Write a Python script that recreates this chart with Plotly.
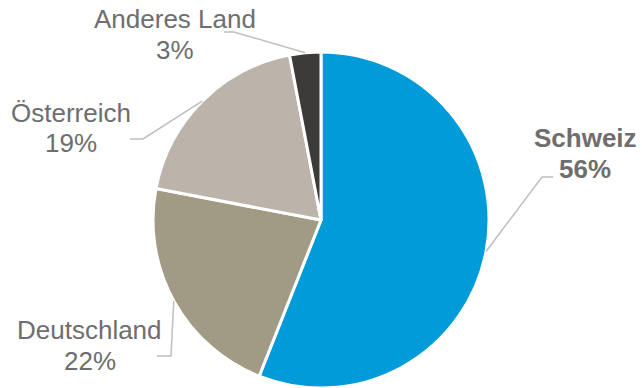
import math
import plotly.graph_objects as go

# Data
laender = ["Schweiz", "Deutschland", "Österreich", "Anderes Land"]
anteile = [56, 22, 19, 3]
farben = ["#009BD8", "#A19B86", "#BCB4AB", "#3C3B39"]

W, H = 642, 388
# Pie placement in pixels (center and radius)
CX, CY, R = 321, 220, 167
R_DOMAIN = 168  # slice outlines eat a little of the radius

# Label layout: (name center x, name middle y, pct middle y, elbow, end) in pixels
label_layout = {
    "Schweiz":      dict(x=585, y1=138, y2=169, elbow=(542, 177), end=(553, 177), bold=True),
    "Deutschland":  dict(x=90,  y1=330, y2=361, elbow=(171, 356), end=(157, 356), bold=False),
    "Österreich":   dict(x=71,  y1=113, y2=143, elbow=(143, 139), end=(130, 139), bold=False),
    "Anderes Land": dict(x=175, y1=19,  y2=50,  elbow=(234, 32),  end=(224, 32),  bold=False),
}

TEXT = "#6E6E6E"
LINE = "#BFBFBF"


def px(x):
    return x / W


def py(y):
    return min(1.0, max(0.0, 1 - y / H))


fig = go.Figure(go.Pie(
    labels=laender,
    values=anteile,
    marker=dict(colors=farben, line=dict(color="white", width=3)),
    sort=False,
    direction="clockwise",
    rotation=0,
    textinfo="none",
    hoverinfo="label+percent",
    showlegend=False,
    domain=dict(x=[px(CX - R_DOMAIN), px(CX + R_DOMAIN)],
                y=[py(CY + R_DOMAIN), py(CY - R_DOMAIN)]),
))

total = sum(anteile)
cum = 0
shapes = []
annotations = []
for name, val in zip(laender, anteile):
    mid = (cum + val / 2) / total * 2 * math.pi
    cum += val
    sx = CX + (R + 1) * math.sin(mid)
    sy = CY - (R + 1) * math.cos(mid)
    lay = label_layout[name]
    ex, ey = lay["elbow"]
    tx, ty = lay["end"]
    shapes.append(dict(
        type="path", xref="paper", yref="paper",
        path=f"M {px(sx)} {py(sy)} L {px(ex)} {py(ey)} L {px(tx)} {py(ty)}",
        line=dict(color=LINE, width=1.5),
    ))
    pct = f"{round(val / total * 100)}%"
    if lay["bold"]:
        t1, t2 = f"<b>{name}</b>", f"<b>{pct}</b>"
    else:
        t1, t2 = name, pct
    for txt, yy in ((t1, lay["y1"]), (t2, lay["y2"])):
        annotations.append(dict(
            x=px(lay["x"]), y=py(yy), xref="paper", yref="paper",
            text=txt, showarrow=False, xanchor="center", yanchor="middle",
            font=dict(family="Liberation Sans, Arial, sans-serif", size=26, color=TEXT),
        ))

fig.update_layout(
    width=W, height=H,
    margin=dict(l=0, r=0, t=0, b=0),
    paper_bgcolor="white",
    plot_bgcolor="white",
    shapes=shapes,
    annotations=annotations,
)

fig.write_html("out.html")
